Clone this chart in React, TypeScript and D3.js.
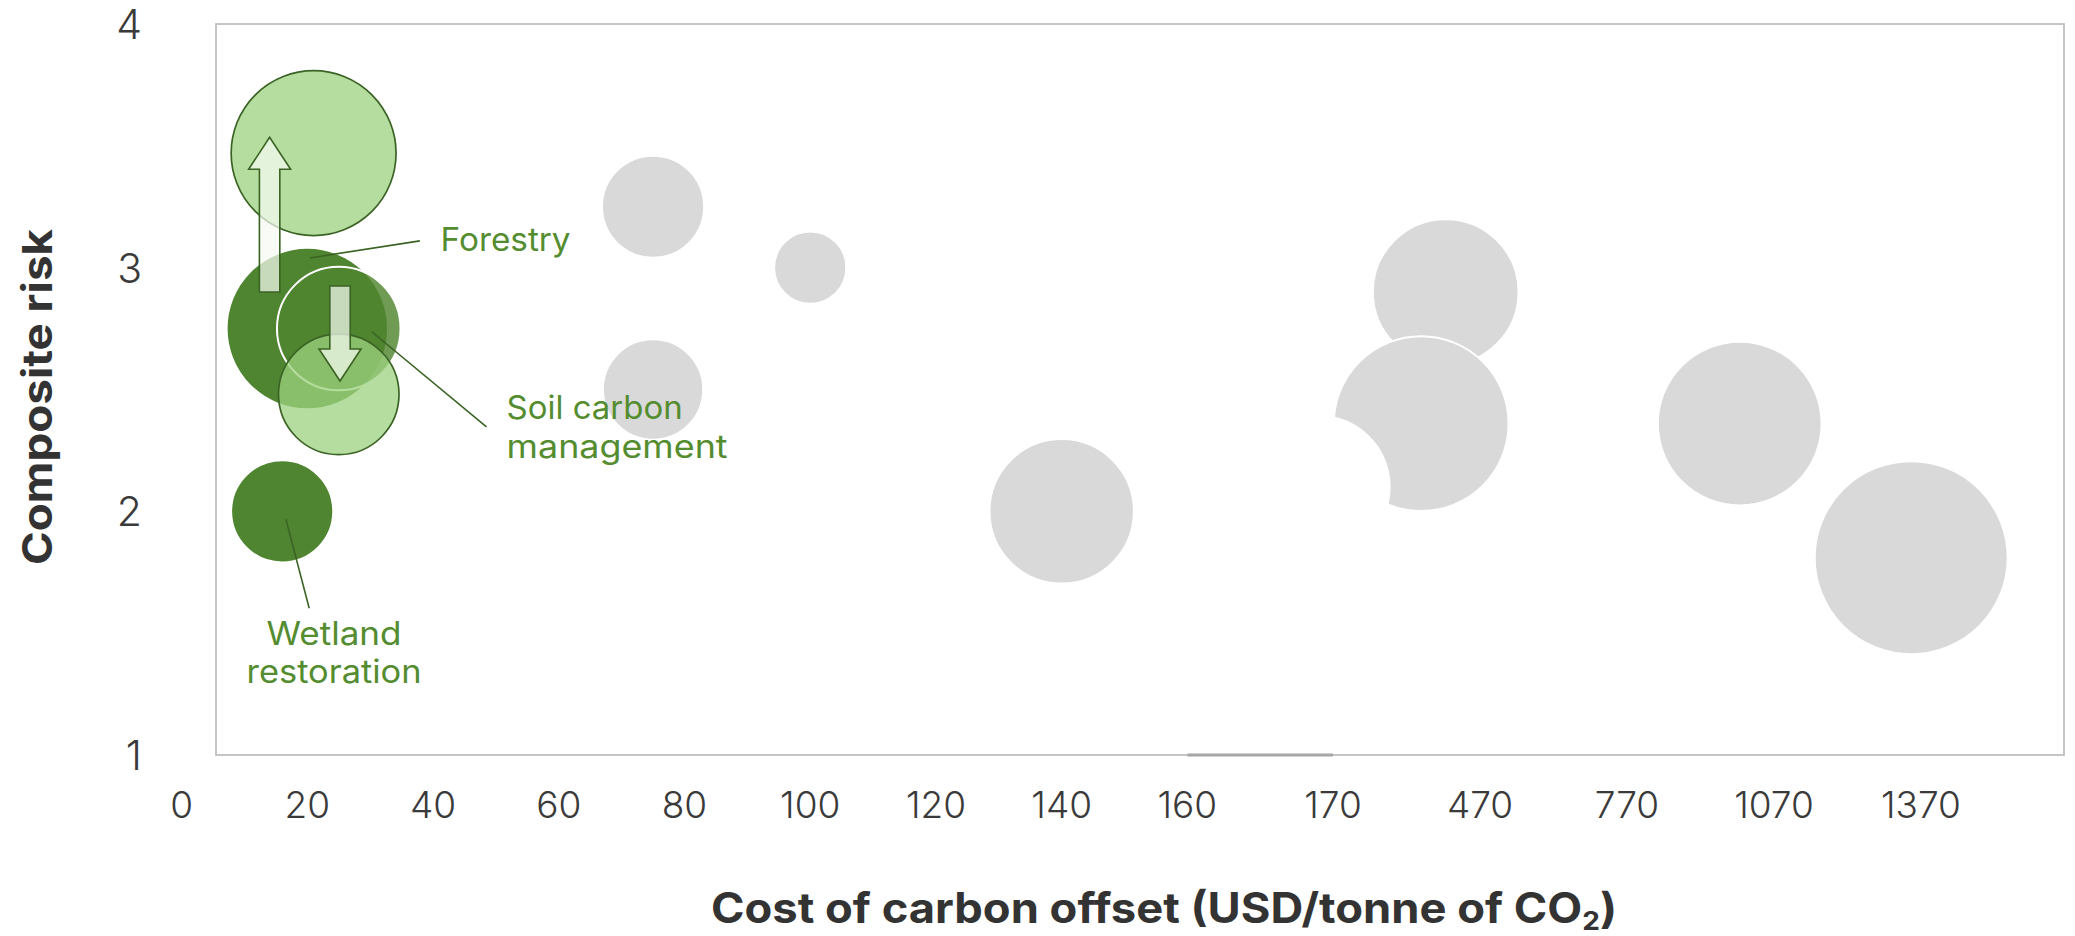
import React from "react";
import * as d3 from "d3";

// ---- axis ticks ----
const X_TICKS = [0, 20, 40, 60, 80, 100, 120, 140, 160, 170, 470, 770, 1070, 1370];
const Y_TICKS = [1, 2, 3, 4];

// ---- nature-based pathways: current position ----
const CURRENT_NAMES = ["Forestry", "Soil carbon management", "Wetland restoration"];
const CURRENT_COST = [20, 25, 16];
const CURRENT_RISK = [2.75, 2.75, 2.0];
const CURRENT_SIZE = [70, 41, 28];

// ---- nature-based pathways: shifted position ----
const SHIFTED_NAMES = ["Forestry", "Soil carbon management"];
const SHIFTED_COST = [21, 25];
const SHIFTED_RISK = [3.47, 2.48];
const SHIFTED_SIZE = [73, 39];

// ---- other removal pathways ----
const OTHER_COST = [75, 100, 75, 140, 400, 350, 1000, 1350];
const OTHER_RISK = [3.25, 3.0, 2.5, 2.0, 2.9, 2.36, 2.36, 1.81];
const OTHER_SIZE = [28, 14, 27, 56, 57, 82, 72, 100];

// ---- blank (white) series point ----
const BLANK_COST = [169];
const BLANK_RISK = [2.1];
const BLANK_SIZE = [56];

// ---- shift arrows: cost position, start risk, end risk ----
const ARROW_COST = [14, 25.2];
const ARROW_FROM = [2.9, 2.925];
const ARROW_TO = [3.535, 2.535];

// ---- callouts: leader line (cost, risk) pairs and label anchor ----
const CALLOUT_TEXT = [["Forestry"], ["Soil carbon", "management"], ["Wetland", "restoration"]];
const CALLOUT_FROM = [[20.4, 3.04], [30.25, 2.737], [16.6, 1.967]];
const CALLOUT_TO = [[37.9, 3.11], [48.5, 2.347], [20.3, 1.602]];
const CALLOUT_AT = [[41.2, 3.07], [51.7, 2.378], [24.25, 1.452]];
const CALLOUT_ANCHOR = ["start", "start", "middle"];
// rendered line widths of the callout text
const CALLOUT_WIDTH = [[130], [176, 221], [135, 175]];

const W = 2075;
const H = 936;
const PLOT = { left: 216, top: 24, right: 2064, bottom: 755 };

const FONT = "Inter, 'Noto Sans', 'DejaVu Sans', sans-serif";
const DARK_GREEN = "#4F8530";
const LIGHT_GREEN = "#9CD27F";
const OUTLINE_GREEN = "#3A6324";
const LABEL_GREEN = "#548C30";
const GREY = "#D9D9D9";
const TEXT = "#3A3A3A";

// broken cost axis: evenly spaced 0-160, then wider steps beyond 170
const x = d3
  .scaleLinear()
  .domain([0, 160, 170, 1370])
  .range([181.6, 1187.4, 1333, 1921]);
const y = d3.scaleLinear().domain([1, 4]).range([PLOT.bottom, PLOT.top]);
const r = d3.scaleSqrt().domain([0, 100]).range([0, 96.5]);

type Pt = { cost: number; risk: number; size: number; name?: string };
const zip = (c: number[], rk: number[], s: number[], n?: string[]): Pt[] =>
  c.map((cost, i) => ({ cost, risk: rk[i], size: s[i], name: n ? n[i] : undefined }));

const current = zip(CURRENT_COST, CURRENT_RISK, CURRENT_SIZE, CURRENT_NAMES);
const shifted = zip(SHIFTED_COST, SHIFTED_RISK, SHIFTED_SIZE, SHIFTED_NAMES);
const others = zip(OTHER_COST, OTHER_RISK, OTHER_SIZE);
const blanks = zip(BLANK_COST, BLANK_RISK, BLANK_SIZE);

const SHAFT_HALF = 10.2;
const HEAD_HALF = 21;
const HEAD_LEN = 32;

function arrowPath(cost: number, from: number, to: number): string {
  const cx = x(cost);
  const y0 = y(from);
  const y1 = y(to);
  const dir = Math.sign(y1 - y0);
  const yb = y1 - dir * HEAD_LEN;
  const pts: [number, number][] = [
    [cx - SHAFT_HALF, y0],
    [cx - SHAFT_HALF, yb],
    [cx - HEAD_HALF, yb],
    [cx, y1],
    [cx + HEAD_HALF, yb],
    [cx + SHAFT_HALF, yb],
    [cx + SHAFT_HALF, y0],
  ];
  return d3.line()(pts) + "Z";
}

const currentOpacity = (name?: string) => (name === "Soil carbon management" ? 0.82 : 1);

export default function App() {
  return (
    <svg
      width={W}
      height={H}
      viewBox={`0 0 ${W} ${H}`}
      style={{ position: "absolute", left: 0, top: 0, background: "#fff" }}
      fontFamily={FONT}
    >
      <rect x={0} y={0} width={W} height={H} fill="#fff" />

      {/* plot frame */}
      <rect
        x={PLOT.left}
        y={PLOT.top}
        width={PLOT.right - PLOT.left}
        height={PLOT.bottom - PLOT.top}
        fill="none"
        stroke="#BFBFBF"
        strokeWidth={1.8}
      />
      {/* axis break marker between 160 and 170 */}
      <line
        x1={x(160)}
        x2={x(170)}
        y1={PLOT.bottom}
        y2={PLOT.bottom}
        stroke="#A6A6A6"
        strokeWidth={3}
      />

      {/* other pathways */}
      {others.map((d, i) => (
        <circle
          key={"o" + i}
          cx={x(d.cost)}
          cy={y(d.risk)}
          r={r(d.size)}
          fill={GREY}
          stroke="#fff"
          strokeWidth={2}
        />
      ))}
      {blanks.map((d, i) => (
        <circle key={"b" + i} cx={x(d.cost)} cy={y(d.risk)} r={r(d.size)} fill="#fff" />
      ))}

      {/* current positions */}
      {current.map((d, i) => (
        <circle
          key={"c" + i}
          cx={x(d.cost)}
          cy={y(d.risk)}
          r={r(d.size)}
          fill={DARK_GREEN}
          fillOpacity={currentOpacity(d.name)}
          stroke="#fff"
          strokeWidth={2}
        />
      ))}

      {/* shifted positions */}
      {shifted.map((d, i) => (
        <circle
          key={"s" + i}
          cx={x(d.cost)}
          cy={y(d.risk)}
          r={r(d.size)}
          fill={LIGHT_GREEN}
          fillOpacity={0.75}
          stroke={OUTLINE_GREEN}
          strokeWidth={1.7}
        />
      ))}

      {/* shift arrows */}
      {ARROW_COST.map((c, i) => (
        <path
          key={"a" + i}
          d={arrowPath(c, ARROW_FROM[i], ARROW_TO[i])}
          fill="#F6FBF2"
          fillOpacity={0.72}
          stroke={OUTLINE_GREEN}
          strokeWidth={1.6}
          strokeLinejoin="miter"
        />
      ))}

      {/* callouts */}
      {CALLOUT_TEXT.map((lines, i) => (
        <g key={"l" + i}>
          <line
            x1={x(CALLOUT_FROM[i][0])}
            y1={y(CALLOUT_FROM[i][1])}
            x2={x(CALLOUT_TO[i][0])}
            y2={y(CALLOUT_TO[i][1])}
            stroke={OUTLINE_GREEN}
            strokeWidth={1.6}
          />
          {lines.map((t, j) => (
            <text
              key={j}
              x={x(CALLOUT_AT[i][0])}
              y={y(CALLOUT_AT[i][1]) + j * 38.4}
              fill={LABEL_GREEN}
              fontSize={32}
              textAnchor={CALLOUT_ANCHOR[i]}
              textLength={CALLOUT_WIDTH[i][j]}
              lengthAdjust="spacingAndGlyphs"
            >
              {t}
            </text>
          ))}
        </g>
      ))}

      {/* y tick labels */}
      {Y_TICKS.map((t) => (
        <text
          key={"yt" + t}
          x={142}
          y={y(t)}
          textAnchor="end"
          dominantBaseline="central"
          fontSize={41}
          fontWeight={300}
          fill={TEXT}
        >
          {t}
        </text>
      ))}

      {/* x tick labels */}
      {X_TICKS.map((t) => (
        <text
          key={"xt" + t}
          x={x(t)}
          y={804}
          textAnchor="middle"
          dominantBaseline="central"
          fontSize={37}
          fontWeight={300}
          fill={TEXT}
        >
          {t}
        </text>
      ))}

      {/* axis titles */}
      <text
        transform={`translate(52, 397) rotate(-90)`}
        textAnchor="middle"
        fontSize={41}
        fontWeight={700}
        fill="#333"
        textLength={336}
        lengthAdjust="spacingAndGlyphs"
      >
        Composite risk
      </text>
      <text
        x={1164}
        y={923}
        textAnchor="middle"
        fontSize={42}
        fontWeight={700}
        fill="#333"
        textLength={906}
        lengthAdjust="spacingAndGlyphs"
      >
        Cost of carbon offset (USD/tonne of CO
        <tspan fontSize={26} dy={7}>
          2
        </tspan>
        <tspan dy={-7}>)</tspan>
      </text>
    </svg>
  );
}
